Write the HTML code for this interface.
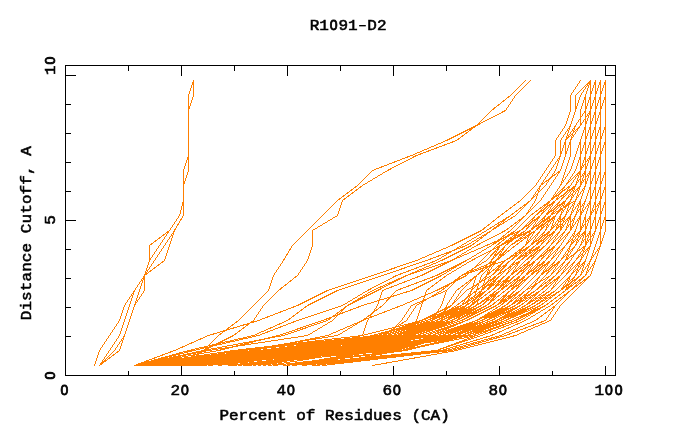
<!DOCTYPE html>
<html><head><meta charset="utf-8"><title>R1091-D2</title>
<style>html,body{margin:0;padding:0;background:#fff;width:680px;height:440px;overflow:hidden;font-family:"Liberation Mono",monospace}</style></head>
<body>
<svg width="680" height="440" viewBox="0 0 680 440" style="position:absolute;left:0;top:0">
<rect x="0" y="0" width="680" height="440" fill="#fff"/>
<g fill="none" stroke="#FF7F00" stroke-width="1" stroke-linecap="square" shape-rendering="crispEdges">
<path d="M94.5 365.5L99.5 350.5M99.5 350.5L109.5 335.5M109.5 335.5L119.5 320.5M119.5 320.5L124.5 305.5M124.5 305.5L134.5 290.5M134.5 290.5L144.5 275.5M144.5 275.5L149.5 260.5M149.5 260.5L149.5 245.5M149.5 245.5L169.5 230.5M169.5 230.5L179.5 215.5M179.5 215.5L183.5 200.5M183.5 200.5L183.5 185.5M183.5 185.5L183.5 170.5M183.5 170.5L188.5 155.5M188.5 155.5L188.5 140.5M188.5 140.5L188.5 125.5M188.5 125.5L188.5 110.5M188.5 110.5L188.5 95.5M188.5 95.5L193.5 80.5"/>
<path d="M99.5 365.5L109.5 350.5M109.5 350.5L119.5 335.5M119.5 335.5L124.5 320.5M124.5 320.5L129.5 305.5M129.5 305.5L134.5 290.5M134.5 290.5L144.5 275.5M144.5 275.5L149.5 260.5M149.5 260.5L159.5 245.5M159.5 245.5L169.5 230.5M169.5 230.5L179.5 215.5M179.5 215.5L183.5 200.5M183.5 200.5L183.5 185.5M183.5 185.5L188.5 170.5M188.5 170.5L188.5 155.5M188.5 155.5L188.5 140.5M188.5 140.5L188.5 125.5M188.5 125.5L188.5 110.5M188.5 110.5L193.5 95.5M193.5 95.5L193.5 80.5"/>
<path d="M99.5 365.5L114.5 350.5M114.5 350.5L124.5 335.5M124.5 335.5L129.5 320.5M129.5 320.5L134.5 305.5M134.5 305.5L139.5 290.5M139.5 290.5L144.5 275.5M144.5 275.5L154.5 260.5M154.5 260.5L164.5 245.5M164.5 245.5L174.5 230.5M174.5 230.5L183.5 215.5M183.5 215.5L183.5 200.5M183.5 200.5L183.5 185.5M183.5 185.5L188.5 170.5M188.5 170.5L188.5 155.5M188.5 155.5L188.5 140.5M188.5 140.5L188.5 125.5M188.5 125.5L188.5 110.5M188.5 110.5L193.5 95.5M193.5 95.5L193.5 80.5"/>
<path d="M99.5 365.5L119.5 350.5M119.5 350.5L124.5 335.5M124.5 335.5L129.5 320.5M129.5 320.5L134.5 305.5M134.5 305.5L144.5 290.5M144.5 290.5L144.5 275.5M144.5 275.5L164.5 260.5M164.5 260.5L169.5 245.5M169.5 245.5L174.5 230.5M174.5 230.5L183.5 215.5M183.5 215.5L183.5 200.5M183.5 200.5L183.5 185.5M183.5 185.5L188.5 170.5M188.5 170.5L188.5 155.5M188.5 155.5L188.5 140.5M188.5 140.5L188.5 125.5M188.5 125.5L188.5 110.5M188.5 110.5L193.5 95.5M193.5 95.5L193.5 80.5"/>
<path d="M183.5 365.5L203.5 350.5M203.5 350.5L218.5 335.5M218.5 335.5L238.5 320.5M238.5 320.5L253.5 305.5M253.5 305.5L268.5 290.5M268.5 290.5L273.5 275.5M273.5 275.5L283.5 260.5M283.5 260.5L292.5 245.5M292.5 245.5L307.5 230.5M307.5 230.5L322.5 215.5M322.5 215.5L337.5 200.5M337.5 200.5L357.5 185.5M357.5 185.5L372.5 170.5M372.5 170.5L411.5 155.5M411.5 155.5L446.5 140.5M446.5 140.5L476.5 125.5M476.5 125.5L491.5 110.5M491.5 110.5L510.5 95.5M510.5 95.5L525.5 80.5"/>
<path d="M174.5 365.5L203.5 350.5M203.5 350.5L233.5 335.5M233.5 335.5L253.5 320.5M253.5 320.5L263.5 305.5M263.5 305.5L278.5 290.5M278.5 290.5L297.5 275.5M297.5 275.5L307.5 260.5M307.5 260.5L312.5 245.5M312.5 245.5L312.5 230.5M312.5 230.5L337.5 215.5M337.5 215.5L342.5 200.5M342.5 200.5L362.5 185.5M362.5 185.5L387.5 170.5M387.5 170.5L416.5 155.5M416.5 155.5L456.5 140.5M456.5 140.5L476.5 125.5M476.5 125.5L505.5 110.5M505.5 110.5L515.5 95.5M515.5 95.5L530.5 80.5"/>
<path d="M134.5 365.5L174.5 350.5M174.5 350.5L208.5 335.5M208.5 335.5L258.5 320.5M258.5 320.5L297.5 305.5M297.5 305.5L327.5 290.5M327.5 290.5L372.5 275.5M372.5 275.5L416.5 260.5M416.5 260.5L451.5 245.5M451.5 245.5L481.5 230.5M481.5 230.5L500.5 215.5M500.5 215.5L520.5 200.5M520.5 200.5L535.5 185.5M535.5 185.5L545.5 170.5M545.5 170.5L555.5 155.5M555.5 155.5L555.5 140.5M555.5 140.5L565.5 125.5M565.5 125.5L570.5 110.5M570.5 110.5L570.5 95.5M570.5 95.5L580.5 80.5"/>
<path d="M372.5 365.5L456.5 350.5M456.5 350.5L515.5 335.5M515.5 335.5L550.5 320.5M550.5 320.5L560.5 305.5M560.5 305.5L575.5 290.5M575.5 290.5L590.5 275.5M590.5 275.5L595.5 260.5M595.5 260.5L600.5 245.5M600.5 245.5L600.5 230.5M600.5 230.5L605.5 215.5M605.5 215.5L605.5 200.5M605.5 200.5L605.5 185.5M605.5 185.5L605.5 170.5M605.5 170.5L605.5 155.5M605.5 155.5L605.5 140.5M605.5 140.5L605.5 125.5M605.5 125.5L605.5 110.5M605.5 110.5L605.5 95.5M605.5 95.5L605.5 80.5"/>
<path d="M134.5 365.5L188.5 350.5M188.5 350.5L253.5 335.5M253.5 335.5L287.5 320.5M287.5 320.5L307.5 305.5M307.5 305.5L337.5 290.5M337.5 290.5L382.5 275.5M382.5 275.5L426.5 260.5M426.5 260.5L466.5 245.5M466.5 245.5L491.5 230.5M491.5 230.5L515.5 215.5M515.5 215.5L530.5 200.5M530.5 200.5L540.5 185.5M540.5 185.5L550.5 170.5M550.5 170.5L560.5 155.5M560.5 155.5L560.5 140.5M560.5 140.5L570.5 125.5M570.5 125.5L575.5 110.5M575.5 110.5L580.5 95.5M580.5 95.5L590.5 80.5"/>
<path d="M134.5 365.5L193.5 350.5M193.5 350.5L258.5 335.5M258.5 335.5L297.5 320.5M297.5 320.5L342.5 305.5M342.5 305.5L367.5 290.5M367.5 290.5L396.5 275.5M396.5 275.5L436.5 260.5M436.5 260.5L461.5 245.5M461.5 245.5L486.5 230.5M486.5 230.5L510.5 215.5M510.5 215.5L530.5 200.5M530.5 200.5L545.5 185.5M545.5 185.5L555.5 170.5M555.5 170.5L560.5 155.5M560.5 155.5L565.5 140.5M565.5 140.5L570.5 125.5M570.5 125.5L575.5 110.5M575.5 110.5L575.5 95.5M575.5 95.5L590.5 80.5"/>
<path d="M134.5 365.5L203.5 350.5M203.5 350.5L283.5 335.5M283.5 335.5L327.5 320.5M327.5 320.5L347.5 305.5M347.5 305.5L377.5 290.5M377.5 290.5L406.5 275.5M406.5 275.5L441.5 260.5M441.5 260.5L471.5 245.5M471.5 245.5L491.5 230.5M491.5 230.5L510.5 215.5M510.5 215.5L530.5 200.5M530.5 200.5L545.5 185.5M545.5 185.5L555.5 170.5M555.5 170.5L560.5 155.5M560.5 155.5L565.5 140.5M565.5 140.5L575.5 125.5M575.5 125.5L585.5 110.5M585.5 110.5L585.5 95.5M585.5 95.5L590.5 80.5"/>
<path d="M134.5 365.5L208.5 350.5M208.5 350.5L307.5 335.5M307.5 335.5L332.5 320.5M332.5 320.5L347.5 305.5M347.5 305.5L372.5 290.5M372.5 290.5L406.5 275.5M406.5 275.5L451.5 260.5M451.5 260.5L476.5 245.5M476.5 245.5L505.5 230.5M505.5 230.5L525.5 215.5M525.5 215.5L540.5 200.5M540.5 200.5L550.5 185.5M550.5 185.5L560.5 170.5M560.5 170.5L565.5 155.5M565.5 155.5L565.5 140.5M565.5 140.5L580.5 125.5M580.5 125.5L580.5 110.5M580.5 110.5L585.5 95.5M585.5 95.5L590.5 80.5"/>
<path d="M134.5 365.5L218.5 350.5M218.5 350.5L278.5 335.5M278.5 335.5L322.5 320.5M322.5 320.5L362.5 305.5M362.5 305.5L411.5 290.5M411.5 290.5L441.5 275.5M441.5 275.5L466.5 260.5M466.5 260.5L491.5 245.5M491.5 245.5L510.5 230.5M510.5 230.5L525.5 215.5M525.5 215.5L535.5 200.5M535.5 200.5L540.5 185.5M540.5 185.5L560.5 170.5M560.5 170.5L565.5 155.5M565.5 155.5L570.5 140.5M570.5 140.5L580.5 125.5M580.5 125.5L590.5 110.5M590.5 110.5L590.5 95.5M590.5 95.5L590.5 80.5"/>
<path d="M134.5 365.5L233.5 350.5M233.5 350.5L362.5 335.5M362.5 335.5L367.5 320.5M367.5 320.5L377.5 305.5M377.5 305.5L382.5 290.5M382.5 290.5L421.5 275.5M421.5 275.5L451.5 260.5M451.5 260.5L486.5 245.5M486.5 245.5L520.5 230.5M520.5 230.5L535.5 215.5M535.5 215.5L550.5 200.5M550.5 200.5L560.5 185.5M560.5 185.5L565.5 170.5M565.5 170.5L570.5 155.5M570.5 155.5L570.5 140.5M570.5 140.5L575.5 125.5M575.5 125.5L585.5 110.5M585.5 110.5L590.5 95.5M590.5 95.5L595.5 80.5"/>
<path d="M134.5 365.5L243.5 350.5M243.5 350.5L337.5 335.5M337.5 335.5L362.5 320.5M362.5 320.5L382.5 305.5M382.5 305.5L396.5 290.5M396.5 290.5L436.5 275.5M436.5 275.5L466.5 260.5M466.5 260.5L491.5 245.5M491.5 245.5L515.5 230.5M515.5 230.5L530.5 215.5M530.5 215.5L550.5 200.5M550.5 200.5L560.5 185.5M560.5 185.5L570.5 170.5M570.5 170.5L575.5 155.5M575.5 155.5L580.5 140.5M580.5 140.5L585.5 125.5M585.5 125.5L590.5 110.5M590.5 110.5L590.5 95.5M590.5 95.5L595.5 80.5"/>
<path d="M134.5 365.5L253.5 350.5M253.5 350.5L327.5 335.5M327.5 335.5L362.5 320.5M362.5 320.5L401.5 305.5M401.5 305.5L436.5 290.5M436.5 290.5L466.5 275.5M466.5 275.5L481.5 260.5M481.5 260.5L496.5 245.5M496.5 245.5L515.5 230.5M515.5 230.5L530.5 215.5M530.5 215.5L550.5 200.5M550.5 200.5L565.5 185.5M565.5 185.5L575.5 170.5M575.5 170.5L580.5 155.5M580.5 155.5L585.5 140.5M585.5 140.5L585.5 125.5M585.5 125.5L590.5 110.5M590.5 110.5L595.5 95.5M595.5 95.5L595.5 80.5"/>
<path d="M134.5 365.5L258.5 350.5M258.5 350.5L382.5 335.5M382.5 335.5L406.5 320.5M406.5 320.5L416.5 305.5M416.5 305.5L441.5 290.5M441.5 290.5L461.5 275.5M461.5 275.5L486.5 260.5M486.5 260.5L500.5 245.5M500.5 245.5L520.5 230.5M520.5 230.5L535.5 215.5M535.5 215.5L555.5 200.5M555.5 200.5L565.5 185.5M565.5 185.5L580.5 170.5M580.5 170.5L585.5 155.5M585.5 155.5L585.5 140.5M585.5 140.5L590.5 125.5M590.5 125.5L595.5 110.5M595.5 110.5L595.5 95.5M595.5 95.5L595.5 80.5"/>
<path d="M134.5 365.5L268.5 350.5M268.5 350.5L387.5 335.5M387.5 335.5L401.5 320.5M401.5 320.5L411.5 305.5M411.5 305.5L446.5 290.5M446.5 290.5L461.5 275.5M461.5 275.5L505.5 260.5M505.5 260.5L525.5 245.5M525.5 245.5L530.5 230.5M530.5 230.5L540.5 215.5M540.5 215.5L555.5 200.5M555.5 200.5L565.5 185.5M565.5 185.5L580.5 170.5M580.5 170.5L585.5 155.5M585.5 155.5L585.5 140.5M585.5 140.5L590.5 125.5M590.5 125.5L595.5 110.5M595.5 110.5L595.5 95.5M595.5 95.5L600.5 80.5"/>
<path d="M134.5 365.5L278.5 350.5M278.5 350.5L396.5 335.5M396.5 335.5L431.5 320.5M431.5 320.5L441.5 305.5M441.5 305.5L446.5 290.5M446.5 290.5L461.5 275.5M461.5 275.5L496.5 260.5M496.5 260.5L510.5 245.5M510.5 245.5L530.5 230.5M530.5 230.5L545.5 215.5M545.5 215.5L565.5 200.5M565.5 200.5L575.5 185.5M575.5 185.5L585.5 170.5M585.5 170.5L585.5 155.5M585.5 155.5L585.5 140.5M585.5 140.5L590.5 125.5M590.5 125.5L595.5 110.5M595.5 110.5L595.5 95.5M595.5 95.5L600.5 80.5"/>
<path d="M134.5 365.5L287.5 350.5M287.5 350.5L411.5 335.5M411.5 335.5L441.5 320.5M441.5 320.5L446.5 305.5M446.5 305.5L456.5 290.5M456.5 290.5L476.5 275.5M476.5 275.5L496.5 260.5M496.5 260.5L515.5 245.5M515.5 245.5L535.5 230.5M535.5 230.5L555.5 215.5M555.5 215.5L570.5 200.5M570.5 200.5L575.5 185.5M575.5 185.5L585.5 170.5M585.5 170.5L590.5 155.5M590.5 155.5L590.5 140.5M590.5 140.5L590.5 125.5M590.5 125.5L595.5 110.5M595.5 110.5L600.5 95.5M600.5 95.5L600.5 80.5"/>
<path d="M243.5 365.5L382.5 350.5M382.5 350.5L456.5 335.5M456.5 335.5L496.5 320.5M496.5 320.5L530.5 305.5M530.5 305.5L550.5 290.5M550.5 290.5L565.5 275.5M565.5 275.5L580.5 260.5M580.5 260.5L590.5 245.5M590.5 245.5L595.5 230.5M595.5 230.5L595.5 215.5M595.5 215.5L600.5 200.5M600.5 200.5L600.5 185.5M600.5 185.5L600.5 170.5M600.5 170.5L600.5 155.5M600.5 155.5L600.5 140.5M600.5 140.5L600.5 125.5M600.5 125.5L600.5 110.5M600.5 110.5L600.5 95.5M600.5 95.5L605.5 80.5"/>
<path d="M273.5 365.5L401.5 350.5M401.5 350.5L446.5 335.5M446.5 335.5L486.5 320.5M486.5 320.5L515.5 305.5M515.5 305.5L530.5 290.5M530.5 290.5L545.5 275.5M545.5 275.5L555.5 260.5M555.5 260.5L565.5 245.5M565.5 245.5L580.5 230.5M580.5 230.5L590.5 215.5M590.5 215.5L595.5 200.5M595.5 200.5L600.5 185.5M600.5 185.5L600.5 170.5M600.5 170.5L600.5 155.5M600.5 155.5L600.5 140.5M600.5 140.5L600.5 125.5M600.5 125.5L600.5 110.5M600.5 110.5L600.5 95.5M600.5 95.5L600.5 80.5"/>
<path d="M134.5 365.5L347.5 350.5M347.5 350.5L406.5 335.5M406.5 335.5L451.5 320.5M451.5 320.5L481.5 305.5M481.5 305.5L496.5 290.5M496.5 290.5L510.5 275.5M510.5 275.5L530.5 260.5M530.5 260.5L540.5 245.5M540.5 245.5L555.5 230.5M555.5 230.5L565.5 215.5M565.5 215.5L570.5 200.5M570.5 200.5L580.5 185.5M580.5 185.5L585.5 170.5M585.5 170.5L585.5 155.5M585.5 155.5L590.5 140.5M590.5 140.5L590.5 125.5M590.5 125.5L595.5 110.5M595.5 110.5L595.5 95.5M595.5 95.5L595.5 80.5"/>
<path d="M134.5 365.5L392.5 350.5M392.5 350.5L451.5 335.5M451.5 335.5L491.5 320.5M491.5 320.5L520.5 305.5M520.5 305.5L540.5 290.5M540.5 290.5L555.5 275.5M555.5 275.5L570.5 260.5M570.5 260.5L580.5 245.5M580.5 245.5L590.5 230.5M590.5 230.5L590.5 215.5M590.5 215.5L595.5 200.5M595.5 200.5L600.5 185.5M600.5 185.5L600.5 170.5M600.5 170.5L600.5 155.5M600.5 155.5L600.5 140.5M600.5 140.5L600.5 125.5M600.5 125.5L600.5 110.5M600.5 110.5L600.5 95.5M600.5 95.5L600.5 80.5"/>
<path d="M154.5 365.5L357.5 350.5M357.5 350.5L406.5 335.5M406.5 335.5L451.5 320.5M451.5 320.5L476.5 305.5M476.5 305.5L496.5 290.5M496.5 290.5L515.5 275.5M515.5 275.5L535.5 260.5M535.5 260.5L555.5 245.5M555.5 245.5L570.5 230.5M570.5 230.5L575.5 215.5M575.5 215.5L580.5 200.5M580.5 200.5L585.5 185.5M585.5 185.5L590.5 170.5M590.5 170.5L590.5 155.5M590.5 155.5L590.5 140.5M590.5 140.5L590.5 125.5M590.5 125.5L590.5 110.5M590.5 110.5L590.5 95.5M590.5 95.5L595.5 80.5"/>
<path d="M179.5 365.5L302.5 350.5M302.5 350.5L387.5 335.5M387.5 335.5L431.5 320.5M431.5 320.5L461.5 305.5M461.5 305.5L481.5 290.5M481.5 290.5L496.5 275.5M496.5 275.5L520.5 260.5M520.5 260.5L535.5 245.5M535.5 245.5L555.5 230.5M555.5 230.5L560.5 215.5M560.5 215.5L565.5 200.5M565.5 200.5L575.5 185.5M575.5 185.5L580.5 170.5M580.5 170.5L580.5 155.5M580.5 155.5L580.5 140.5M580.5 140.5L585.5 125.5M585.5 125.5L590.5 110.5M590.5 110.5L590.5 95.5M590.5 95.5L595.5 80.5"/>
<path d="M134.5 365.5L332.5 350.5M332.5 350.5L421.5 335.5M421.5 335.5L466.5 320.5M466.5 320.5L496.5 305.5M496.5 305.5L520.5 290.5M520.5 290.5L535.5 275.5M535.5 275.5L550.5 260.5M550.5 260.5L565.5 245.5M565.5 245.5L575.5 230.5M575.5 230.5L580.5 215.5M580.5 215.5L585.5 200.5M585.5 200.5L590.5 185.5M590.5 185.5L590.5 170.5M590.5 170.5L595.5 155.5M595.5 155.5L595.5 140.5M595.5 140.5L595.5 125.5M595.5 125.5L595.5 110.5M595.5 110.5L595.5 95.5M595.5 95.5L600.5 80.5"/>
<path d="M134.5 365.5L367.5 350.5M367.5 350.5L441.5 335.5M441.5 335.5L476.5 320.5M476.5 320.5L510.5 305.5M510.5 305.5L525.5 290.5M525.5 290.5L540.5 275.5M540.5 275.5L555.5 260.5M555.5 260.5L565.5 245.5M565.5 245.5L575.5 230.5M575.5 230.5L580.5 215.5M580.5 215.5L585.5 200.5M585.5 200.5L590.5 185.5M590.5 185.5L590.5 170.5M590.5 170.5L595.5 155.5M595.5 155.5L595.5 140.5M595.5 140.5L595.5 125.5M595.5 125.5L600.5 110.5M600.5 110.5L600.5 95.5M600.5 95.5L600.5 80.5"/>
<path d="M228.5 365.5L287.5 350.5M287.5 350.5L401.5 335.5M401.5 335.5L451.5 320.5M451.5 320.5L476.5 305.5M476.5 305.5L496.5 290.5M496.5 290.5L510.5 275.5M510.5 275.5L520.5 260.5M520.5 260.5L535.5 245.5M535.5 245.5L550.5 230.5M550.5 230.5L555.5 215.5M555.5 215.5L565.5 200.5M565.5 200.5L580.5 185.5M580.5 185.5L585.5 170.5M585.5 170.5L590.5 155.5M590.5 155.5L590.5 140.5M590.5 140.5L590.5 125.5M590.5 125.5L595.5 110.5M595.5 110.5L595.5 95.5M595.5 95.5L595.5 80.5"/>
<path d="M134.5 365.5L406.5 350.5M406.5 350.5L461.5 335.5M461.5 335.5L496.5 320.5M496.5 320.5L525.5 305.5M525.5 305.5L545.5 290.5M545.5 290.5L560.5 275.5M560.5 275.5L570.5 260.5M570.5 260.5L580.5 245.5M580.5 245.5L590.5 230.5M590.5 230.5L590.5 215.5M590.5 215.5L595.5 200.5M595.5 200.5L595.5 185.5M595.5 185.5L600.5 170.5M600.5 170.5L600.5 155.5M600.5 155.5L600.5 140.5M600.5 140.5L605.5 125.5M605.5 125.5L605.5 110.5M605.5 110.5L605.5 95.5M605.5 95.5L605.5 80.5"/>
<path d="M154.5 365.5L307.5 350.5M307.5 350.5L396.5 335.5M396.5 335.5L436.5 320.5M436.5 320.5L471.5 305.5M471.5 305.5L491.5 290.5M491.5 290.5L510.5 275.5M510.5 275.5L530.5 260.5M530.5 260.5L545.5 245.5M545.5 245.5L560.5 230.5M560.5 230.5L565.5 215.5M565.5 215.5L575.5 200.5M575.5 200.5L580.5 185.5M580.5 185.5L580.5 170.5M580.5 170.5L585.5 155.5M585.5 155.5L585.5 140.5M585.5 140.5L590.5 125.5M590.5 125.5L590.5 110.5M590.5 110.5L595.5 95.5M595.5 95.5L595.5 80.5"/>
<path d="M134.5 365.5L357.5 350.5M357.5 350.5L446.5 335.5M446.5 335.5L486.5 320.5M486.5 320.5L520.5 305.5M520.5 305.5L540.5 290.5M540.5 290.5L555.5 275.5M555.5 275.5L570.5 260.5M570.5 260.5L580.5 245.5M580.5 245.5L590.5 230.5M590.5 230.5L590.5 215.5M590.5 215.5L595.5 200.5M595.5 200.5L595.5 185.5M595.5 185.5L600.5 170.5M600.5 170.5L600.5 155.5M600.5 155.5L600.5 140.5M600.5 140.5L600.5 125.5M600.5 125.5L600.5 110.5M600.5 110.5L600.5 95.5M600.5 95.5L600.5 80.5"/>
<path d="M218.5 365.5L283.5 350.5M283.5 350.5L411.5 335.5M411.5 335.5L446.5 320.5M446.5 320.5L481.5 305.5M481.5 305.5L496.5 290.5M496.5 290.5L510.5 275.5M510.5 275.5L525.5 260.5M525.5 260.5L545.5 245.5M545.5 245.5L555.5 230.5M555.5 230.5L570.5 215.5M570.5 215.5L575.5 200.5M575.5 200.5L585.5 185.5M585.5 185.5L590.5 170.5M590.5 170.5L590.5 155.5M590.5 155.5L590.5 140.5M590.5 140.5L595.5 125.5M595.5 125.5L595.5 110.5M595.5 110.5L595.5 95.5M595.5 95.5L595.5 80.5"/>
<path d="M203.5 365.5L297.5 350.5M297.5 350.5L416.5 335.5M416.5 335.5L461.5 320.5M461.5 320.5L486.5 305.5M486.5 305.5L505.5 290.5M505.5 290.5L520.5 275.5M520.5 275.5L535.5 260.5M535.5 260.5L550.5 245.5M550.5 245.5L565.5 230.5M565.5 230.5L570.5 215.5M570.5 215.5L575.5 200.5M575.5 200.5L580.5 185.5M580.5 185.5L585.5 170.5M585.5 170.5L590.5 155.5M590.5 155.5L590.5 140.5M590.5 140.5L590.5 125.5M590.5 125.5L595.5 110.5M595.5 110.5L595.5 95.5M595.5 95.5L595.5 80.5"/>
<path d="M134.5 365.5L362.5 350.5M362.5 350.5L446.5 335.5M446.5 335.5L486.5 320.5M486.5 320.5L515.5 305.5M515.5 305.5L535.5 290.5M535.5 290.5L555.5 275.5M555.5 275.5L565.5 260.5M565.5 260.5L575.5 245.5M575.5 245.5L585.5 230.5M585.5 230.5L585.5 215.5M585.5 215.5L590.5 200.5M590.5 200.5L590.5 185.5M590.5 185.5L595.5 170.5M595.5 170.5L595.5 155.5M595.5 155.5L595.5 140.5M595.5 140.5L595.5 125.5M595.5 125.5L600.5 110.5M600.5 110.5L600.5 95.5M600.5 95.5L600.5 80.5"/>
<path d="M134.5 365.5L317.5 350.5M317.5 350.5L406.5 335.5M406.5 335.5L446.5 320.5M446.5 320.5L481.5 305.5M481.5 305.5L496.5 290.5M496.5 290.5L515.5 275.5M515.5 275.5L535.5 260.5M535.5 260.5L550.5 245.5M550.5 245.5L560.5 230.5M560.5 230.5L570.5 215.5M570.5 215.5L575.5 200.5M575.5 200.5L580.5 185.5M580.5 185.5L585.5 170.5M585.5 170.5L590.5 155.5M590.5 155.5L590.5 140.5M590.5 140.5L590.5 125.5M590.5 125.5L595.5 110.5M595.5 110.5L595.5 95.5M595.5 95.5L595.5 80.5"/>
<path d="M139.5 365.5L372.5 350.5M372.5 350.5L456.5 335.5M456.5 335.5L496.5 320.5M496.5 320.5L525.5 305.5M525.5 305.5L550.5 290.5M550.5 290.5L565.5 275.5M565.5 275.5L575.5 260.5M575.5 260.5L590.5 245.5M590.5 245.5L595.5 230.5M595.5 230.5L595.5 215.5M595.5 215.5L600.5 200.5M600.5 200.5L600.5 185.5M600.5 185.5L600.5 170.5M600.5 170.5L600.5 155.5M600.5 155.5L600.5 140.5M600.5 140.5L600.5 125.5M600.5 125.5L600.5 110.5M600.5 110.5L600.5 95.5M600.5 95.5L600.5 80.5"/>
<path d="M253.5 365.5L327.5 350.5M327.5 350.5L401.5 335.5M401.5 335.5L441.5 320.5M441.5 320.5L471.5 305.5M471.5 305.5L486.5 290.5M486.5 290.5L505.5 275.5M505.5 275.5L520.5 260.5M520.5 260.5L535.5 245.5M535.5 245.5L550.5 230.5M550.5 230.5L560.5 215.5M560.5 215.5L570.5 200.5M570.5 200.5L580.5 185.5M580.5 185.5L590.5 170.5M590.5 170.5L590.5 155.5M590.5 155.5L590.5 140.5M590.5 140.5L590.5 125.5M590.5 125.5L595.5 110.5M595.5 110.5L595.5 95.5M595.5 95.5L595.5 80.5"/>
<path d="M208.5 365.5L287.5 350.5M287.5 350.5L387.5 335.5M387.5 335.5L431.5 320.5M431.5 320.5L466.5 305.5M466.5 305.5L486.5 290.5M486.5 290.5L505.5 275.5M505.5 275.5L520.5 260.5M520.5 260.5L535.5 245.5M535.5 245.5L550.5 230.5M550.5 230.5L555.5 215.5M555.5 215.5L565.5 200.5M565.5 200.5L575.5 185.5M575.5 185.5L580.5 170.5M580.5 170.5L580.5 155.5M580.5 155.5L585.5 140.5M585.5 140.5L590.5 125.5M590.5 125.5L590.5 110.5M590.5 110.5L590.5 95.5M590.5 95.5L595.5 80.5"/>
<path d="M253.5 365.5L337.5 350.5M337.5 350.5L411.5 335.5M411.5 335.5L451.5 320.5M451.5 320.5L481.5 305.5M481.5 305.5L500.5 290.5M500.5 290.5L515.5 275.5M515.5 275.5L535.5 260.5M535.5 260.5L550.5 245.5M550.5 245.5L560.5 230.5M560.5 230.5L565.5 215.5M565.5 215.5L575.5 200.5M575.5 200.5L585.5 185.5M585.5 185.5L590.5 170.5M590.5 170.5L590.5 155.5M590.5 155.5L590.5 140.5M590.5 140.5L595.5 125.5M595.5 125.5L595.5 110.5M595.5 110.5L595.5 95.5M595.5 95.5L595.5 80.5"/>
<path d="M283.5 365.5L406.5 350.5M406.5 350.5L466.5 335.5M466.5 335.5L505.5 320.5M505.5 320.5L535.5 305.5M535.5 305.5L560.5 290.5M560.5 290.5L580.5 275.5M580.5 275.5L590.5 260.5M590.5 260.5L600.5 245.5M600.5 245.5L600.5 230.5M600.5 230.5L600.5 215.5M600.5 215.5L605.5 200.5M605.5 200.5L605.5 185.5M605.5 185.5L605.5 170.5M605.5 170.5L605.5 155.5M605.5 155.5L605.5 140.5M605.5 140.5L605.5 125.5M605.5 125.5L605.5 110.5M605.5 110.5L605.5 95.5M605.5 95.5L605.5 80.5"/>
<path d="M154.5 365.5L362.5 350.5M362.5 350.5L411.5 335.5M411.5 335.5L456.5 320.5M456.5 320.5L486.5 305.5M486.5 305.5L505.5 290.5M505.5 290.5L520.5 275.5M520.5 275.5L535.5 260.5M535.5 260.5L550.5 245.5M550.5 245.5L565.5 230.5M565.5 230.5L575.5 215.5M575.5 215.5L580.5 200.5M580.5 200.5L585.5 185.5M585.5 185.5L590.5 170.5M590.5 170.5L595.5 155.5M595.5 155.5L595.5 140.5M595.5 140.5L595.5 125.5M595.5 125.5L595.5 110.5M595.5 110.5L595.5 95.5M595.5 95.5L595.5 80.5"/>
<path d="M164.5 365.5L322.5 350.5M322.5 350.5L416.5 335.5M416.5 335.5L461.5 320.5M461.5 320.5L491.5 305.5M491.5 305.5L510.5 290.5M510.5 290.5L530.5 275.5M530.5 275.5L540.5 260.5M540.5 260.5L550.5 245.5M550.5 245.5L565.5 230.5M565.5 230.5L570.5 215.5M570.5 215.5L580.5 200.5M580.5 200.5L585.5 185.5M585.5 185.5L590.5 170.5M590.5 170.5L590.5 155.5M590.5 155.5L590.5 140.5M590.5 140.5L595.5 125.5M595.5 125.5L595.5 110.5M595.5 110.5L595.5 95.5M595.5 95.5L595.5 80.5"/>
<path d="M188.5 365.5L317.5 350.5M317.5 350.5L401.5 335.5M401.5 335.5L446.5 320.5M446.5 320.5L476.5 305.5M476.5 305.5L500.5 290.5M500.5 290.5L510.5 275.5M510.5 275.5L525.5 260.5M525.5 260.5L540.5 245.5M540.5 245.5L555.5 230.5M555.5 230.5L565.5 215.5M565.5 215.5L570.5 200.5M570.5 200.5L580.5 185.5M580.5 185.5L585.5 170.5M585.5 170.5L590.5 155.5M590.5 155.5L590.5 140.5M590.5 140.5L590.5 125.5M590.5 125.5L590.5 110.5M590.5 110.5L590.5 95.5M590.5 95.5L595.5 80.5"/>
<path d="M248.5 365.5L362.5 350.5M362.5 350.5L431.5 335.5M431.5 335.5L476.5 320.5M476.5 320.5L500.5 305.5M500.5 305.5L515.5 290.5M515.5 290.5L530.5 275.5M530.5 275.5L540.5 260.5M540.5 260.5L550.5 245.5M550.5 245.5L565.5 230.5M565.5 230.5L575.5 215.5M575.5 215.5L585.5 200.5M585.5 200.5L590.5 185.5M590.5 185.5L595.5 170.5M595.5 170.5L595.5 155.5M595.5 155.5L595.5 140.5M595.5 140.5L595.5 125.5M595.5 125.5L595.5 110.5M595.5 110.5L595.5 95.5M595.5 95.5L600.5 80.5"/>
<path d="M134.5 365.5L302.5 350.5M302.5 350.5L401.5 335.5M401.5 335.5L441.5 320.5M441.5 320.5L471.5 305.5M471.5 305.5L491.5 290.5M491.5 290.5L505.5 275.5M505.5 275.5L515.5 260.5M515.5 260.5L540.5 245.5M540.5 245.5L550.5 230.5M550.5 230.5L560.5 215.5M560.5 215.5L570.5 200.5M570.5 200.5L575.5 185.5M575.5 185.5L585.5 170.5M585.5 170.5L585.5 155.5M585.5 155.5L585.5 140.5M585.5 140.5L590.5 125.5M590.5 125.5L590.5 110.5M590.5 110.5L590.5 95.5M590.5 95.5L595.5 80.5"/>
<path d="M198.5 365.5L307.5 350.5M307.5 350.5L382.5 335.5M382.5 335.5L431.5 320.5M431.5 320.5L461.5 305.5M461.5 305.5L486.5 290.5M486.5 290.5L500.5 275.5M500.5 275.5L515.5 260.5M515.5 260.5L535.5 245.5M535.5 245.5L550.5 230.5M550.5 230.5L555.5 215.5M555.5 215.5L565.5 200.5M565.5 200.5L575.5 185.5M575.5 185.5L580.5 170.5M580.5 170.5L580.5 155.5M580.5 155.5L580.5 140.5M580.5 140.5L585.5 125.5M585.5 125.5L590.5 110.5M590.5 110.5L590.5 95.5M590.5 95.5L595.5 80.5"/>
<path d="M134.5 365.5L367.5 350.5M367.5 350.5L471.5 335.5M471.5 335.5L505.5 320.5M505.5 320.5L540.5 305.5M540.5 305.5L560.5 290.5M560.5 290.5L575.5 275.5M575.5 275.5L585.5 260.5M585.5 260.5L590.5 245.5M590.5 245.5L595.5 230.5M595.5 230.5L600.5 215.5M600.5 215.5L600.5 200.5M600.5 200.5L600.5 185.5M600.5 185.5L605.5 170.5M605.5 170.5L605.5 155.5M605.5 155.5L605.5 140.5M605.5 140.5L605.5 125.5M605.5 125.5L605.5 110.5M605.5 110.5L605.5 95.5M605.5 95.5L605.5 80.5"/>
<path d="M134.5 365.5L382.5 350.5M382.5 350.5L451.5 335.5M451.5 335.5L496.5 320.5M496.5 320.5L525.5 305.5M525.5 305.5L540.5 290.5M540.5 290.5L560.5 275.5M560.5 275.5L570.5 260.5M570.5 260.5L580.5 245.5M580.5 245.5L590.5 230.5M590.5 230.5L595.5 215.5M595.5 215.5L595.5 200.5M595.5 200.5L600.5 185.5M600.5 185.5L600.5 170.5M600.5 170.5L600.5 155.5M600.5 155.5L600.5 140.5M600.5 140.5L600.5 125.5M600.5 125.5L600.5 110.5M600.5 110.5L600.5 95.5M600.5 95.5L600.5 80.5"/>
<path d="M134.5 365.5L312.5 350.5M312.5 350.5L382.5 335.5M382.5 335.5L426.5 320.5M426.5 320.5L461.5 305.5M461.5 305.5L481.5 290.5M481.5 290.5L500.5 275.5M500.5 275.5L515.5 260.5M515.5 260.5L535.5 245.5M535.5 245.5L545.5 230.5M545.5 230.5L555.5 215.5M555.5 215.5L565.5 200.5M565.5 200.5L575.5 185.5M575.5 185.5L580.5 170.5M580.5 170.5L585.5 155.5M585.5 155.5L585.5 140.5M585.5 140.5L585.5 125.5M585.5 125.5L590.5 110.5M590.5 110.5L590.5 95.5M590.5 95.5L595.5 80.5"/>
<path d="M154.5 365.5L406.5 350.5M406.5 350.5L466.5 335.5M466.5 335.5L510.5 320.5M510.5 320.5L545.5 305.5M545.5 305.5L565.5 290.5M565.5 290.5L570.5 275.5M570.5 275.5L580.5 260.5M580.5 260.5L585.5 245.5M585.5 245.5L590.5 230.5M590.5 230.5L590.5 215.5M590.5 215.5L600.5 200.5M600.5 200.5L605.5 185.5M605.5 185.5L605.5 170.5M605.5 170.5L605.5 155.5M605.5 155.5L605.5 140.5M605.5 140.5L605.5 125.5M605.5 125.5L605.5 110.5M605.5 110.5L605.5 95.5M605.5 95.5L605.5 80.5"/>
<path d="M183.5 365.5L307.5 350.5M307.5 350.5L421.5 335.5M421.5 335.5L466.5 320.5M466.5 320.5L496.5 305.5M496.5 305.5L510.5 290.5M510.5 290.5L525.5 275.5M525.5 275.5L545.5 260.5M545.5 260.5L555.5 245.5M555.5 245.5L570.5 230.5M570.5 230.5L575.5 215.5M575.5 215.5L580.5 200.5M580.5 200.5L585.5 185.5M585.5 185.5L590.5 170.5M590.5 170.5L590.5 155.5M590.5 155.5L590.5 140.5M590.5 140.5L595.5 125.5M595.5 125.5L595.5 110.5M595.5 110.5L595.5 95.5M595.5 95.5L600.5 80.5"/>
<path d="M169.5 365.5L367.5 350.5M367.5 350.5L466.5 335.5M466.5 335.5L505.5 320.5M505.5 320.5L530.5 305.5M530.5 305.5L555.5 290.5M555.5 290.5L570.5 275.5M570.5 275.5L580.5 260.5M580.5 260.5L585.5 245.5M585.5 245.5L595.5 230.5M595.5 230.5L600.5 215.5M600.5 215.5L600.5 200.5M600.5 200.5L605.5 185.5M605.5 185.5L605.5 170.5M605.5 170.5L605.5 155.5M605.5 155.5L605.5 140.5M605.5 140.5L605.5 125.5M605.5 125.5L605.5 110.5M605.5 110.5L605.5 95.5M605.5 95.5L605.5 80.5"/>
<path d="M208.5 365.5L327.5 350.5M327.5 350.5L401.5 335.5M401.5 335.5L446.5 320.5M446.5 320.5L476.5 305.5M476.5 305.5L496.5 290.5M496.5 290.5L515.5 275.5M515.5 275.5L530.5 260.5M530.5 260.5L545.5 245.5M545.5 245.5L560.5 230.5M560.5 230.5L560.5 215.5M560.5 215.5L570.5 200.5M570.5 200.5L580.5 185.5M580.5 185.5L585.5 170.5M585.5 170.5L585.5 155.5M585.5 155.5L585.5 140.5M585.5 140.5L585.5 125.5M585.5 125.5L590.5 110.5M590.5 110.5L590.5 95.5M590.5 95.5L595.5 80.5"/>
<path d="M208.5 365.5L297.5 350.5M297.5 350.5L372.5 335.5M372.5 335.5L426.5 320.5M426.5 320.5L466.5 305.5M466.5 305.5L486.5 290.5M486.5 290.5L505.5 275.5M505.5 275.5L515.5 260.5M515.5 260.5L530.5 245.5M530.5 245.5L540.5 230.5M540.5 230.5L550.5 215.5M550.5 215.5L560.5 200.5M560.5 200.5L575.5 185.5M575.5 185.5L580.5 170.5M580.5 170.5L585.5 155.5M585.5 155.5L585.5 140.5M585.5 140.5L590.5 125.5M590.5 125.5L590.5 110.5M590.5 110.5L590.5 95.5M590.5 95.5L595.5 80.5"/>
<path d="M134.5 365.5L401.5 350.5M401.5 350.5L446.5 335.5M446.5 335.5L486.5 320.5M486.5 320.5L515.5 305.5M515.5 305.5L540.5 290.5M540.5 290.5L555.5 275.5M555.5 275.5L565.5 260.5M565.5 260.5L575.5 245.5M575.5 245.5L580.5 230.5M580.5 230.5L585.5 215.5M585.5 215.5L590.5 200.5M590.5 200.5L595.5 185.5M595.5 185.5L595.5 170.5M595.5 170.5L595.5 155.5M595.5 155.5L595.5 140.5M595.5 140.5L600.5 125.5M600.5 125.5L600.5 110.5M600.5 110.5L600.5 95.5M600.5 95.5L600.5 80.5"/>
<path d="M268.5 365.5L362.5 350.5M362.5 350.5L456.5 335.5M456.5 335.5L496.5 320.5M496.5 320.5L520.5 305.5M520.5 305.5L540.5 290.5M540.5 290.5L555.5 275.5M555.5 275.5L570.5 260.5M570.5 260.5L580.5 245.5M580.5 245.5L590.5 230.5M590.5 230.5L595.5 215.5M595.5 215.5L595.5 200.5M595.5 200.5L600.5 185.5M600.5 185.5L600.5 170.5M600.5 170.5L600.5 155.5M600.5 155.5L600.5 140.5M600.5 140.5L600.5 125.5M600.5 125.5L600.5 110.5M600.5 110.5L600.5 95.5M600.5 95.5L605.5 80.5"/>
<path d="M134.5 365.5L297.5 350.5M297.5 350.5L396.5 335.5M396.5 335.5L441.5 320.5M441.5 320.5L471.5 305.5M471.5 305.5L486.5 290.5M486.5 290.5L500.5 275.5M500.5 275.5L515.5 260.5M515.5 260.5L530.5 245.5M530.5 245.5L540.5 230.5M540.5 230.5L555.5 215.5M555.5 215.5L565.5 200.5M565.5 200.5L575.5 185.5M575.5 185.5L580.5 170.5M580.5 170.5L585.5 155.5M585.5 155.5L585.5 140.5M585.5 140.5L590.5 125.5M590.5 125.5L590.5 110.5M590.5 110.5L590.5 95.5M590.5 95.5L595.5 80.5"/>
<path d="M208.5 365.5L327.5 350.5M327.5 350.5L431.5 335.5M431.5 335.5L476.5 320.5M476.5 320.5L510.5 305.5M510.5 305.5L525.5 290.5M525.5 290.5L550.5 275.5M550.5 275.5L560.5 260.5M560.5 260.5L570.5 245.5M570.5 245.5L580.5 230.5M580.5 230.5L580.5 215.5M580.5 215.5L585.5 200.5M585.5 200.5L590.5 185.5M590.5 185.5L590.5 170.5M590.5 170.5L590.5 155.5M590.5 155.5L595.5 140.5M595.5 140.5L600.5 125.5M600.5 125.5L600.5 110.5M600.5 110.5L600.5 95.5M600.5 95.5L600.5 80.5"/>
<path d="M228.5 365.5L352.5 350.5M352.5 350.5L416.5 335.5M416.5 335.5L461.5 320.5M461.5 320.5L491.5 305.5M491.5 305.5L510.5 290.5M510.5 290.5L520.5 275.5M520.5 275.5L530.5 260.5M530.5 260.5L545.5 245.5M545.5 245.5L560.5 230.5M560.5 230.5L570.5 215.5M570.5 215.5L575.5 200.5M575.5 200.5L585.5 185.5M585.5 185.5L590.5 170.5M590.5 170.5L590.5 155.5M590.5 155.5L590.5 140.5M590.5 140.5L590.5 125.5M590.5 125.5L595.5 110.5M595.5 110.5L595.5 95.5M595.5 95.5L595.5 80.5"/>
<path d="M188.5 365.5L382.5 350.5M382.5 350.5L436.5 335.5M436.5 335.5L476.5 320.5M476.5 320.5L500.5 305.5M500.5 305.5L520.5 290.5M520.5 290.5L535.5 275.5M535.5 275.5L545.5 260.5M545.5 260.5L560.5 245.5M560.5 245.5L570.5 230.5M570.5 230.5L575.5 215.5M575.5 215.5L585.5 200.5M585.5 200.5L590.5 185.5M590.5 185.5L595.5 170.5M595.5 170.5L595.5 155.5M595.5 155.5L595.5 140.5M595.5 140.5L595.5 125.5M595.5 125.5L600.5 110.5M600.5 110.5L600.5 95.5M600.5 95.5L600.5 80.5"/>
<path d="M134.5 365.5L322.5 350.5M322.5 350.5L421.5 335.5M421.5 335.5L466.5 320.5M466.5 320.5L496.5 305.5M496.5 305.5L515.5 290.5M515.5 290.5L525.5 275.5M525.5 275.5L540.5 260.5M540.5 260.5L555.5 245.5M555.5 245.5L565.5 230.5M565.5 230.5L575.5 215.5M575.5 215.5L580.5 200.5M580.5 200.5L585.5 185.5M585.5 185.5L590.5 170.5M590.5 170.5L595.5 155.5M595.5 155.5L595.5 140.5M595.5 140.5L595.5 125.5M595.5 125.5L595.5 110.5M595.5 110.5L595.5 95.5M595.5 95.5L595.5 80.5"/>
<path d="M134.5 365.5L387.5 350.5M387.5 350.5L451.5 335.5M451.5 335.5L500.5 320.5M500.5 320.5L530.5 305.5M530.5 305.5L555.5 290.5M555.5 290.5L570.5 275.5M570.5 275.5L585.5 260.5M585.5 260.5L590.5 245.5M590.5 245.5L595.5 230.5M595.5 230.5L600.5 215.5M600.5 215.5L600.5 200.5M600.5 200.5L600.5 185.5M600.5 185.5L600.5 170.5M600.5 170.5L600.5 155.5M600.5 155.5L600.5 140.5M600.5 140.5L605.5 125.5M605.5 125.5L605.5 110.5M605.5 110.5L605.5 95.5M605.5 95.5L605.5 80.5"/>
<path d="M134.5 365.5L387.5 350.5M387.5 350.5L441.5 335.5M441.5 335.5L476.5 320.5M476.5 320.5L505.5 305.5M505.5 305.5L525.5 290.5M525.5 290.5L540.5 275.5M540.5 275.5L560.5 260.5M560.5 260.5L570.5 245.5M570.5 245.5L585.5 230.5M585.5 230.5L590.5 215.5M590.5 215.5L590.5 200.5M590.5 200.5L595.5 185.5M595.5 185.5L595.5 170.5M595.5 170.5L595.5 155.5M595.5 155.5L595.5 140.5M595.5 140.5L595.5 125.5M595.5 125.5L600.5 110.5M600.5 110.5L600.5 95.5M600.5 95.5L605.5 80.5"/>
<path d="M134.5 365.5L357.5 350.5M357.5 350.5L431.5 335.5M431.5 335.5L466.5 320.5M466.5 320.5L496.5 305.5M496.5 305.5L515.5 290.5M515.5 290.5L530.5 275.5M530.5 275.5L550.5 260.5M550.5 260.5L565.5 245.5M565.5 245.5L580.5 230.5M580.5 230.5L585.5 215.5M585.5 215.5L590.5 200.5M590.5 200.5L595.5 185.5M595.5 185.5L595.5 170.5M595.5 170.5L595.5 155.5M595.5 155.5L595.5 140.5M595.5 140.5L595.5 125.5M595.5 125.5L595.5 110.5M595.5 110.5L595.5 95.5M595.5 95.5L600.5 80.5"/>
<path d="M154.5 365.5L377.5 350.5M377.5 350.5L436.5 335.5M436.5 335.5L476.5 320.5M476.5 320.5L505.5 305.5M505.5 305.5L525.5 290.5M525.5 290.5L540.5 275.5M540.5 275.5L550.5 260.5M550.5 260.5L565.5 245.5M565.5 245.5L575.5 230.5M575.5 230.5L580.5 215.5M580.5 215.5L580.5 200.5M580.5 200.5L585.5 185.5M585.5 185.5L590.5 170.5M590.5 170.5L590.5 155.5M590.5 155.5L590.5 140.5M590.5 140.5L595.5 125.5M595.5 125.5L595.5 110.5M595.5 110.5L595.5 95.5M595.5 95.5L600.5 80.5"/>
<path d="M317.5 365.5L401.5 350.5M401.5 350.5L466.5 335.5M466.5 335.5L505.5 320.5M505.5 320.5L535.5 305.5M535.5 305.5L560.5 290.5M560.5 290.5L570.5 275.5M570.5 275.5L585.5 260.5M585.5 260.5L590.5 245.5M590.5 245.5L595.5 230.5M595.5 230.5L600.5 215.5M600.5 215.5L600.5 200.5M600.5 200.5L605.5 185.5M605.5 185.5L605.5 170.5M605.5 170.5L605.5 155.5M605.5 155.5L605.5 140.5M605.5 140.5L605.5 125.5M605.5 125.5L605.5 110.5M605.5 110.5L605.5 95.5M605.5 95.5L605.5 80.5"/>
<path d="M233.5 365.5L347.5 350.5M347.5 350.5L451.5 335.5M451.5 335.5L486.5 320.5M486.5 320.5L510.5 305.5M510.5 305.5L535.5 290.5M535.5 290.5L550.5 275.5M550.5 275.5L565.5 260.5M565.5 260.5L585.5 245.5M585.5 245.5L595.5 230.5M595.5 230.5L595.5 215.5M595.5 215.5L595.5 200.5M595.5 200.5L600.5 185.5M600.5 185.5L600.5 170.5M600.5 170.5L600.5 155.5M600.5 155.5L600.5 140.5M600.5 140.5L600.5 125.5M600.5 125.5L600.5 110.5M600.5 110.5L605.5 95.5M605.5 95.5L605.5 80.5"/>
<path d="M134.5 365.5L312.5 350.5M312.5 350.5L426.5 335.5M426.5 335.5L466.5 320.5M466.5 320.5L496.5 305.5M496.5 305.5L510.5 290.5M510.5 290.5L525.5 275.5M525.5 275.5L535.5 260.5M535.5 260.5L550.5 245.5M550.5 245.5L565.5 230.5M565.5 230.5L570.5 215.5M570.5 215.5L580.5 200.5M580.5 200.5L585.5 185.5M585.5 185.5L590.5 170.5M590.5 170.5L590.5 155.5M590.5 155.5L590.5 140.5M590.5 140.5L595.5 125.5M595.5 125.5L595.5 110.5M595.5 110.5L595.5 95.5M595.5 95.5L595.5 80.5"/>
<path d="M263.5 365.5L342.5 350.5M342.5 350.5L436.5 335.5M436.5 335.5L481.5 320.5M481.5 320.5L510.5 305.5M510.5 305.5L530.5 290.5M530.5 290.5L540.5 275.5M540.5 275.5L560.5 260.5M560.5 260.5L570.5 245.5M570.5 245.5L580.5 230.5M580.5 230.5L585.5 215.5M585.5 215.5L590.5 200.5M590.5 200.5L590.5 185.5M590.5 185.5L590.5 170.5M590.5 170.5L595.5 155.5M595.5 155.5L595.5 140.5M595.5 140.5L600.5 125.5M600.5 125.5L600.5 110.5M600.5 110.5L600.5 95.5M600.5 95.5L605.5 80.5"/>
<path d="M198.5 365.5L322.5 350.5M322.5 350.5L406.5 335.5M406.5 335.5L451.5 320.5M451.5 320.5L481.5 305.5M481.5 305.5L500.5 290.5M500.5 290.5L520.5 275.5M520.5 275.5L535.5 260.5M535.5 260.5L550.5 245.5M550.5 245.5L560.5 230.5M560.5 230.5L565.5 215.5M565.5 215.5L570.5 200.5M570.5 200.5L580.5 185.5M580.5 185.5L585.5 170.5M585.5 170.5L585.5 155.5M585.5 155.5L585.5 140.5M585.5 140.5L590.5 125.5M590.5 125.5L595.5 110.5M595.5 110.5L595.5 95.5M595.5 95.5L600.5 80.5"/>
<path d="M208.5 365.5L352.5 350.5M352.5 350.5L451.5 335.5M451.5 335.5L496.5 320.5M496.5 320.5L525.5 305.5M525.5 305.5L540.5 290.5M540.5 290.5L560.5 275.5M560.5 275.5L570.5 260.5M570.5 260.5L580.5 245.5M580.5 245.5L585.5 230.5M585.5 230.5L590.5 215.5M590.5 215.5L595.5 200.5M595.5 200.5L595.5 185.5M595.5 185.5L600.5 170.5M600.5 170.5L600.5 155.5M600.5 155.5L600.5 140.5M600.5 140.5L600.5 125.5M600.5 125.5L600.5 110.5M600.5 110.5L600.5 95.5M600.5 95.5L605.5 80.5"/>
<path d="M208.5 365.5L332.5 350.5M332.5 350.5L416.5 335.5M416.5 335.5L456.5 320.5M456.5 320.5L481.5 305.5M481.5 305.5L500.5 290.5M500.5 290.5L515.5 275.5M515.5 275.5L535.5 260.5M535.5 260.5L550.5 245.5M550.5 245.5L565.5 230.5M565.5 230.5L570.5 215.5M570.5 215.5L575.5 200.5M575.5 200.5L585.5 185.5M585.5 185.5L585.5 170.5M585.5 170.5L590.5 155.5M590.5 155.5L590.5 140.5M590.5 140.5L590.5 125.5M590.5 125.5L595.5 110.5M595.5 110.5L595.5 95.5M595.5 95.5L595.5 80.5"/>
<path d="M238.5 365.5L357.5 350.5M357.5 350.5L451.5 335.5M451.5 335.5L500.5 320.5M500.5 320.5L535.5 305.5M535.5 305.5L560.5 290.5M560.5 290.5L570.5 275.5M570.5 275.5L580.5 260.5M580.5 260.5L585.5 245.5M585.5 245.5L585.5 230.5M585.5 230.5L590.5 215.5M590.5 215.5L595.5 200.5M595.5 200.5L600.5 185.5M600.5 185.5L605.5 170.5M605.5 170.5L605.5 155.5M605.5 155.5L605.5 140.5M605.5 140.5L605.5 125.5M605.5 125.5L605.5 110.5M605.5 110.5L605.5 95.5M605.5 95.5L605.5 80.5"/>
<path d="M134.5 365.5L377.5 350.5M377.5 350.5L461.5 335.5M461.5 335.5L500.5 320.5M500.5 320.5L535.5 305.5M535.5 305.5L555.5 290.5M555.5 290.5L570.5 275.5M570.5 275.5L585.5 260.5M585.5 260.5L590.5 245.5M590.5 245.5L595.5 230.5M595.5 230.5L595.5 215.5M595.5 215.5L600.5 200.5M600.5 200.5L600.5 185.5M600.5 185.5L600.5 170.5M600.5 170.5L600.5 155.5M600.5 155.5L600.5 140.5M600.5 140.5L605.5 125.5M605.5 125.5L605.5 110.5M605.5 110.5L605.5 95.5M605.5 95.5L605.5 80.5"/>
<path d="M193.5 365.5L377.5 350.5M377.5 350.5L446.5 335.5M446.5 335.5L481.5 320.5M481.5 320.5L510.5 305.5M510.5 305.5L525.5 290.5M525.5 290.5L540.5 275.5M540.5 275.5L550.5 260.5M550.5 260.5L560.5 245.5M560.5 245.5L570.5 230.5M570.5 230.5L580.5 215.5M580.5 215.5L590.5 200.5M590.5 200.5L595.5 185.5M595.5 185.5L600.5 170.5M600.5 170.5L600.5 155.5M600.5 155.5L600.5 140.5M600.5 140.5L600.5 125.5M600.5 125.5L600.5 110.5M600.5 110.5L600.5 95.5M600.5 95.5L600.5 80.5"/>
<path d="M183.5 365.5L377.5 350.5M377.5 350.5L436.5 335.5M436.5 335.5L481.5 320.5M481.5 320.5L505.5 305.5M505.5 305.5L525.5 290.5M525.5 290.5L540.5 275.5M540.5 275.5L550.5 260.5M550.5 260.5L560.5 245.5M560.5 245.5L570.5 230.5M570.5 230.5L580.5 215.5M580.5 215.5L585.5 200.5M585.5 200.5L590.5 185.5M590.5 185.5L595.5 170.5M595.5 170.5L595.5 155.5M595.5 155.5L595.5 140.5M595.5 140.5L595.5 125.5M595.5 125.5L600.5 110.5M600.5 110.5L600.5 95.5M600.5 95.5L600.5 80.5"/>
<path d="M208.5 365.5L268.5 350.5M268.5 350.5L392.5 335.5M392.5 335.5L436.5 320.5M436.5 320.5L466.5 305.5M466.5 305.5L486.5 290.5M486.5 290.5L496.5 275.5M496.5 275.5L520.5 260.5M520.5 260.5L535.5 245.5M535.5 245.5L550.5 230.5M550.5 230.5L560.5 215.5M560.5 215.5L570.5 200.5M570.5 200.5L575.5 185.5M575.5 185.5L585.5 170.5M585.5 170.5L585.5 155.5M585.5 155.5L585.5 140.5M585.5 140.5L585.5 125.5M585.5 125.5L590.5 110.5M590.5 110.5L590.5 95.5M590.5 95.5L595.5 80.5"/>
<path d="M159.5 365.5L337.5 350.5M337.5 350.5L436.5 335.5M436.5 335.5L481.5 320.5M481.5 320.5L515.5 305.5M515.5 305.5L535.5 290.5M535.5 290.5L555.5 275.5M555.5 275.5L565.5 260.5M565.5 260.5L570.5 245.5M570.5 245.5L575.5 230.5M575.5 230.5L580.5 215.5M580.5 215.5L585.5 200.5M585.5 200.5L590.5 185.5M590.5 185.5L595.5 170.5M595.5 170.5L595.5 155.5M595.5 155.5L595.5 140.5M595.5 140.5L600.5 125.5M600.5 125.5L600.5 110.5M600.5 110.5L600.5 95.5M600.5 95.5L600.5 80.5"/>
<path d="M134.5 365.5L382.5 350.5M382.5 350.5L441.5 335.5M441.5 335.5L486.5 320.5M486.5 320.5L515.5 305.5M515.5 305.5L540.5 290.5M540.5 290.5L555.5 275.5M555.5 275.5L565.5 260.5M565.5 260.5L575.5 245.5M575.5 245.5L585.5 230.5M585.5 230.5L585.5 215.5M585.5 215.5L590.5 200.5M590.5 200.5L595.5 185.5M595.5 185.5L595.5 170.5M595.5 170.5L595.5 155.5M595.5 155.5L600.5 140.5M600.5 140.5L600.5 125.5M600.5 125.5L600.5 110.5M600.5 110.5L600.5 95.5M600.5 95.5L600.5 80.5"/>
<path d="M149.5 365.5L401.5 350.5M401.5 350.5L476.5 335.5M476.5 335.5L515.5 320.5M515.5 320.5L540.5 305.5M540.5 305.5L560.5 290.5M560.5 290.5L580.5 275.5M580.5 275.5L585.5 260.5M585.5 260.5L590.5 245.5M590.5 245.5L590.5 230.5M590.5 230.5L595.5 215.5M595.5 215.5L595.5 200.5M595.5 200.5L600.5 185.5M600.5 185.5L600.5 170.5M600.5 170.5L600.5 155.5M600.5 155.5L605.5 140.5M605.5 140.5L605.5 125.5M605.5 125.5L605.5 110.5M605.5 110.5L605.5 95.5M605.5 95.5L605.5 80.5"/>
<path d="M283.5 365.5L382.5 350.5M382.5 350.5L461.5 335.5M461.5 335.5L500.5 320.5M500.5 320.5L530.5 305.5M530.5 305.5L550.5 290.5M550.5 290.5L560.5 275.5M560.5 275.5L575.5 260.5M575.5 260.5L585.5 245.5M585.5 245.5L585.5 230.5M585.5 230.5L590.5 215.5M590.5 215.5L590.5 200.5M590.5 200.5L595.5 185.5M595.5 185.5L595.5 170.5M595.5 170.5L600.5 155.5M600.5 155.5L600.5 140.5M600.5 140.5L600.5 125.5M600.5 125.5L600.5 110.5M600.5 110.5L600.5 95.5M600.5 95.5L600.5 80.5"/>
<path d="M193.5 365.5L352.5 350.5M352.5 350.5L431.5 335.5M431.5 335.5L476.5 320.5M476.5 320.5L500.5 305.5M500.5 305.5L520.5 290.5M520.5 290.5L535.5 275.5M535.5 275.5L550.5 260.5M550.5 260.5L560.5 245.5M560.5 245.5L570.5 230.5M570.5 230.5L575.5 215.5M575.5 215.5L580.5 200.5M580.5 200.5L585.5 185.5M585.5 185.5L590.5 170.5M590.5 170.5L590.5 155.5M590.5 155.5L595.5 140.5M595.5 140.5L595.5 125.5M595.5 125.5L600.5 110.5M600.5 110.5L600.5 95.5M600.5 95.5L600.5 80.5"/>
<path d="M218.5 365.5L337.5 350.5M337.5 350.5L401.5 335.5M401.5 335.5L441.5 320.5M441.5 320.5L471.5 305.5M471.5 305.5L486.5 290.5M486.5 290.5L500.5 275.5M500.5 275.5L515.5 260.5M515.5 260.5L530.5 245.5M530.5 245.5L550.5 230.5M550.5 230.5L560.5 215.5M560.5 215.5L570.5 200.5M570.5 200.5L580.5 185.5M580.5 185.5L585.5 170.5M585.5 170.5L590.5 155.5M590.5 155.5L590.5 140.5M590.5 140.5L590.5 125.5M590.5 125.5L590.5 110.5M590.5 110.5L590.5 95.5M590.5 95.5L595.5 80.5"/>
<path d="M258.5 365.5L342.5 350.5M342.5 350.5L416.5 335.5M416.5 335.5L461.5 320.5M461.5 320.5L486.5 305.5M486.5 305.5L505.5 290.5M505.5 290.5L525.5 275.5M525.5 275.5L545.5 260.5M545.5 260.5L555.5 245.5M555.5 245.5L570.5 230.5M570.5 230.5L570.5 215.5M570.5 215.5L575.5 200.5M575.5 200.5L585.5 185.5M585.5 185.5L585.5 170.5M585.5 170.5L590.5 155.5M590.5 155.5L590.5 140.5M590.5 140.5L595.5 125.5M595.5 125.5L595.5 110.5M595.5 110.5L595.5 95.5M595.5 95.5L600.5 80.5"/>
<path d="M287.5 365.5L372.5 350.5M372.5 350.5L461.5 335.5M461.5 335.5L505.5 320.5M505.5 320.5L535.5 305.5M535.5 305.5L555.5 290.5M555.5 290.5L570.5 275.5M570.5 275.5L580.5 260.5M580.5 260.5L590.5 245.5M590.5 245.5L595.5 230.5M595.5 230.5L595.5 215.5M595.5 215.5L600.5 200.5M600.5 200.5L600.5 185.5M600.5 185.5L600.5 170.5M600.5 170.5L600.5 155.5M600.5 155.5L600.5 140.5M600.5 140.5L600.5 125.5M600.5 125.5L600.5 110.5M600.5 110.5L600.5 95.5M600.5 95.5L600.5 80.5"/>
<path d="M134.5 365.5L332.5 350.5M332.5 350.5L436.5 335.5M436.5 335.5L476.5 320.5M476.5 320.5L505.5 305.5M505.5 305.5L520.5 290.5M520.5 290.5L535.5 275.5M535.5 275.5L545.5 260.5M545.5 260.5L555.5 245.5M555.5 245.5L565.5 230.5M565.5 230.5L575.5 215.5M575.5 215.5L580.5 200.5M580.5 200.5L585.5 185.5M585.5 185.5L590.5 170.5M590.5 170.5L590.5 155.5M590.5 155.5L590.5 140.5M590.5 140.5L595.5 125.5M595.5 125.5L600.5 110.5M600.5 110.5L600.5 95.5M600.5 95.5L600.5 80.5"/>
<path d="M188.5 365.5L268.5 350.5M268.5 350.5L382.5 335.5M382.5 335.5L431.5 320.5M431.5 320.5L456.5 305.5M456.5 305.5L476.5 290.5M476.5 290.5L496.5 275.5M496.5 275.5L510.5 260.5M510.5 260.5L530.5 245.5M530.5 245.5L545.5 230.5M545.5 230.5L555.5 215.5M555.5 215.5L565.5 200.5M565.5 200.5L575.5 185.5M575.5 185.5L580.5 170.5M580.5 170.5L580.5 155.5M580.5 155.5L580.5 140.5M580.5 140.5L585.5 125.5M585.5 125.5L590.5 110.5M590.5 110.5L590.5 95.5M590.5 95.5L595.5 80.5"/>
<path d="M292.5 365.5L396.5 350.5M396.5 350.5L446.5 335.5M446.5 335.5L481.5 320.5M481.5 320.5L510.5 305.5M510.5 305.5L530.5 290.5M530.5 290.5L545.5 275.5M545.5 275.5L560.5 260.5M560.5 260.5L575.5 245.5M575.5 245.5L585.5 230.5M585.5 230.5L590.5 215.5M590.5 215.5L590.5 200.5M590.5 200.5L590.5 185.5M590.5 185.5L595.5 170.5M595.5 170.5L600.5 155.5M600.5 155.5L600.5 140.5M600.5 140.5L600.5 125.5M600.5 125.5L600.5 110.5M600.5 110.5L600.5 95.5M600.5 95.5L600.5 80.5"/>
<path d="M144.5 365.5L268.5 350.5M268.5 350.5L382.5 335.5M382.5 335.5L431.5 320.5M431.5 320.5L466.5 305.5M466.5 305.5L486.5 290.5M486.5 290.5L505.5 275.5M505.5 275.5L520.5 260.5M520.5 260.5L535.5 245.5M535.5 245.5L545.5 230.5M545.5 230.5L550.5 215.5M550.5 215.5L560.5 200.5M560.5 200.5L575.5 185.5M575.5 185.5L580.5 170.5M580.5 170.5L585.5 155.5M585.5 155.5L585.5 140.5M585.5 140.5L590.5 125.5M590.5 125.5L590.5 110.5M590.5 110.5L590.5 95.5M590.5 95.5L590.5 80.5"/>
<path d="M174.5 365.5L392.5 350.5M392.5 350.5L441.5 335.5M441.5 335.5L481.5 320.5M481.5 320.5L510.5 305.5M510.5 305.5L535.5 290.5M535.5 290.5L550.5 275.5M550.5 275.5L565.5 260.5M565.5 260.5L575.5 245.5M575.5 245.5L585.5 230.5M585.5 230.5L585.5 215.5M585.5 215.5L590.5 200.5M590.5 200.5L590.5 185.5M590.5 185.5L595.5 170.5M595.5 170.5L595.5 155.5M595.5 155.5L595.5 140.5M595.5 140.5L600.5 125.5M600.5 125.5L600.5 110.5M600.5 110.5L600.5 95.5M600.5 95.5L600.5 80.5"/>
<path d="M134.5 365.5L287.5 350.5M287.5 350.5L406.5 335.5M406.5 335.5L456.5 320.5M456.5 320.5L486.5 305.5M486.5 305.5L500.5 290.5M500.5 290.5L510.5 275.5M510.5 275.5L525.5 260.5M525.5 260.5L540.5 245.5M540.5 245.5L555.5 230.5M555.5 230.5L560.5 215.5M560.5 215.5L570.5 200.5M570.5 200.5L580.5 185.5M580.5 185.5L590.5 170.5M590.5 170.5L590.5 155.5M590.5 155.5L590.5 140.5M590.5 140.5L590.5 125.5M590.5 125.5L590.5 110.5M590.5 110.5L590.5 95.5M590.5 95.5L595.5 80.5"/>
<path d="M144.5 365.5L377.5 350.5M377.5 350.5L471.5 335.5M471.5 335.5L515.5 320.5M515.5 320.5L545.5 305.5M545.5 305.5L565.5 290.5M565.5 290.5L575.5 275.5M575.5 275.5L580.5 260.5M580.5 260.5L590.5 245.5M590.5 245.5L595.5 230.5M595.5 230.5L600.5 215.5M600.5 215.5L605.5 200.5M605.5 200.5L605.5 185.5M605.5 185.5L605.5 170.5M605.5 170.5L605.5 155.5M605.5 155.5L605.5 140.5M605.5 140.5L605.5 125.5M605.5 125.5L605.5 110.5M605.5 110.5L605.5 95.5M605.5 95.5L605.5 80.5"/>
<path d="M208.5 365.5L332.5 350.5M332.5 350.5L421.5 335.5M421.5 335.5L466.5 320.5M466.5 320.5L496.5 305.5M496.5 305.5L515.5 290.5M515.5 290.5L530.5 275.5M530.5 275.5L545.5 260.5M545.5 260.5L560.5 245.5M560.5 245.5L570.5 230.5M570.5 230.5L575.5 215.5M575.5 215.5L580.5 200.5M580.5 200.5L585.5 185.5M585.5 185.5L590.5 170.5M590.5 170.5L590.5 155.5M590.5 155.5L590.5 140.5M590.5 140.5L595.5 125.5M595.5 125.5L595.5 110.5M595.5 110.5L595.5 95.5M595.5 95.5L600.5 80.5"/>
<path d="M134.5 365.5L287.5 350.5M287.5 350.5L396.5 335.5M396.5 335.5L436.5 320.5M436.5 320.5L466.5 305.5M466.5 305.5L486.5 290.5M486.5 290.5L505.5 275.5M505.5 275.5L520.5 260.5M520.5 260.5L540.5 245.5M540.5 245.5L550.5 230.5M550.5 230.5L560.5 215.5M560.5 215.5L570.5 200.5M570.5 200.5L580.5 185.5M580.5 185.5L585.5 170.5M585.5 170.5L585.5 155.5M585.5 155.5L585.5 140.5M585.5 140.5L585.5 125.5M585.5 125.5L590.5 110.5M590.5 110.5L590.5 95.5M590.5 95.5L595.5 80.5"/>
<path d="M233.5 365.5L297.5 350.5M297.5 350.5L362.5 335.5M362.5 335.5L421.5 320.5M421.5 320.5L461.5 305.5M461.5 305.5L486.5 290.5M486.5 290.5L505.5 275.5M505.5 275.5L515.5 260.5M515.5 260.5L530.5 245.5M530.5 245.5L540.5 230.5M540.5 230.5L545.5 215.5M545.5 215.5L560.5 200.5M560.5 200.5L570.5 185.5M570.5 185.5L580.5 170.5M580.5 170.5L585.5 155.5M585.5 155.5L585.5 140.5M585.5 140.5L585.5 125.5M585.5 125.5L590.5 110.5M590.5 110.5L590.5 95.5M590.5 95.5L590.5 80.5"/>
<path d="M169.5 365.5L233.5 350.5M233.5 350.5L377.5 335.5M377.5 335.5L421.5 320.5M421.5 320.5L451.5 305.5M451.5 305.5L466.5 290.5M466.5 290.5L491.5 275.5M491.5 275.5L505.5 260.5M505.5 260.5L525.5 245.5M525.5 245.5L540.5 230.5M540.5 230.5L550.5 215.5M550.5 215.5L560.5 200.5M560.5 200.5L570.5 185.5M570.5 185.5L580.5 170.5M580.5 170.5L580.5 155.5M580.5 155.5L580.5 140.5M580.5 140.5L585.5 125.5M585.5 125.5L590.5 110.5M590.5 110.5L590.5 95.5M590.5 95.5L595.5 80.5"/>
<path d="M134.5 365.5L297.5 350.5M297.5 350.5L406.5 335.5M406.5 335.5L456.5 320.5M456.5 320.5L471.5 305.5M471.5 305.5L476.5 290.5M476.5 290.5L481.5 275.5M481.5 275.5L496.5 260.5M496.5 260.5L505.5 245.5M505.5 245.5L525.5 230.5M525.5 230.5L540.5 215.5M540.5 215.5L555.5 200.5M555.5 200.5L565.5 185.5M565.5 185.5L580.5 170.5M580.5 170.5L590.5 155.5M590.5 155.5L590.5 140.5M590.5 140.5L595.5 125.5M595.5 125.5L595.5 110.5M595.5 110.5L595.5 95.5M595.5 95.5L595.5 80.5"/>
<path d="M193.5 365.5L243.5 350.5M243.5 350.5L377.5 335.5M377.5 335.5L426.5 320.5M426.5 320.5L461.5 305.5M461.5 305.5L481.5 290.5M481.5 290.5L491.5 275.5M491.5 275.5L510.5 260.5M510.5 260.5L525.5 245.5M525.5 245.5L540.5 230.5M540.5 230.5L545.5 215.5M545.5 215.5L560.5 200.5M560.5 200.5L570.5 185.5M570.5 185.5L580.5 170.5M580.5 170.5L580.5 155.5M580.5 155.5L580.5 140.5M580.5 140.5L585.5 125.5M585.5 125.5L585.5 110.5M585.5 110.5L590.5 95.5M590.5 95.5L595.5 80.5"/>
<path d="M179.5 365.5L278.5 350.5M278.5 350.5L396.5 335.5M396.5 335.5L446.5 320.5M446.5 320.5L471.5 305.5M471.5 305.5L481.5 290.5M481.5 290.5L491.5 275.5M491.5 275.5L505.5 260.5M505.5 260.5L525.5 245.5M525.5 245.5L535.5 230.5M535.5 230.5L545.5 215.5M545.5 215.5L560.5 200.5M560.5 200.5L575.5 185.5M575.5 185.5L585.5 170.5M585.5 170.5L590.5 155.5M590.5 155.5L590.5 140.5M590.5 140.5L590.5 125.5M590.5 125.5L590.5 110.5M590.5 110.5L590.5 95.5M590.5 95.5L595.5 80.5"/>
<path d="M179.5 365.5L273.5 350.5M273.5 350.5L392.5 335.5M392.5 335.5L441.5 320.5M441.5 320.5L476.5 305.5M476.5 305.5L481.5 290.5M481.5 290.5L486.5 275.5M486.5 275.5L496.5 260.5M496.5 260.5L515.5 245.5M515.5 245.5L535.5 230.5M535.5 230.5L550.5 215.5M550.5 215.5L565.5 200.5M565.5 200.5L580.5 185.5M580.5 185.5L585.5 170.5M585.5 170.5L585.5 155.5M585.5 155.5L590.5 140.5M590.5 140.5L595.5 125.5M595.5 125.5L595.5 110.5M595.5 110.5L595.5 95.5M595.5 95.5L595.5 80.5"/>
<path d="M134.5 365.5L302.5 350.5M302.5 350.5L406.5 335.5M406.5 335.5L416.5 320.5M416.5 320.5L421.5 305.5M421.5 305.5L426.5 290.5M426.5 290.5L446.5 275.5M446.5 275.5L471.5 260.5M471.5 260.5L500.5 245.5M500.5 245.5L530.5 230.5M530.5 230.5L550.5 215.5M550.5 215.5L575.5 200.5M575.5 200.5L585.5 185.5M585.5 185.5L590.5 170.5M590.5 170.5L590.5 155.5M590.5 155.5L590.5 140.5M590.5 140.5L590.5 125.5M590.5 125.5L595.5 110.5M595.5 110.5L595.5 95.5M595.5 95.5L595.5 80.5"/>
<path d="M154.5 365.5L238.5 350.5M238.5 350.5L377.5 335.5M377.5 335.5L426.5 320.5M426.5 320.5L461.5 305.5M461.5 305.5L471.5 290.5M471.5 290.5L476.5 275.5M476.5 275.5L491.5 260.5M491.5 260.5L505.5 245.5M505.5 245.5L520.5 230.5M520.5 230.5L540.5 215.5M540.5 215.5L550.5 200.5M550.5 200.5L570.5 185.5M570.5 185.5L580.5 170.5M580.5 170.5L580.5 155.5M580.5 155.5L580.5 140.5M580.5 140.5L585.5 125.5M585.5 125.5L590.5 110.5M590.5 110.5L590.5 95.5M590.5 95.5L595.5 80.5"/>
<path d="M134.5 365.5L292.5 350.5M292.5 350.5L406.5 335.5M406.5 335.5L446.5 320.5M446.5 320.5L466.5 305.5M466.5 305.5L471.5 290.5M471.5 290.5L486.5 275.5M486.5 275.5L505.5 260.5M505.5 260.5L530.5 245.5M530.5 245.5L550.5 230.5M550.5 230.5L565.5 215.5M565.5 215.5L570.5 200.5M570.5 200.5L580.5 185.5M580.5 185.5L585.5 170.5M585.5 170.5L590.5 155.5M590.5 155.5L590.5 140.5M590.5 140.5L595.5 125.5M595.5 125.5L595.5 110.5M595.5 110.5L595.5 95.5M595.5 95.5L600.5 80.5"/>
<path d="M134.5 365.5L263.5 350.5M263.5 350.5L387.5 335.5M387.5 335.5L436.5 320.5M436.5 320.5L471.5 305.5M471.5 305.5L481.5 290.5M481.5 290.5L486.5 275.5M486.5 275.5L491.5 260.5M491.5 260.5L500.5 245.5M500.5 245.5L525.5 230.5M525.5 230.5L535.5 215.5M535.5 215.5L550.5 200.5M550.5 200.5L570.5 185.5M570.5 185.5L580.5 170.5M580.5 170.5L585.5 155.5M585.5 155.5L585.5 140.5M585.5 140.5L585.5 125.5M585.5 125.5L590.5 110.5M590.5 110.5L590.5 95.5M590.5 95.5L595.5 80.5"/>
<path d="M169.5 365.5L243.5 350.5M243.5 350.5L382.5 335.5M382.5 335.5L431.5 320.5M431.5 320.5L451.5 305.5M451.5 305.5L461.5 290.5M461.5 290.5L476.5 275.5M476.5 275.5L496.5 260.5M496.5 260.5L510.5 245.5M510.5 245.5L535.5 230.5M535.5 230.5L545.5 215.5M545.5 215.5L555.5 200.5M555.5 200.5L575.5 185.5M575.5 185.5L580.5 170.5M580.5 170.5L580.5 155.5M580.5 155.5L580.5 140.5M580.5 140.5L585.5 125.5M585.5 125.5L590.5 110.5M590.5 110.5L590.5 95.5M590.5 95.5L595.5 80.5"/>
<path d="M283.5 365.5L436.5 350.5M436.5 350.5L476.5 335.5M476.5 335.5L515.5 320.5M515.5 320.5L545.5 305.5M545.5 305.5L565.5 290.5M565.5 290.5L580.5 275.5M580.5 275.5L590.5 260.5M590.5 260.5L595.5 245.5M595.5 245.5L600.5 230.5M600.5 230.5L605.5 215.5M605.5 215.5L605.5 200.5M605.5 200.5L605.5 185.5M605.5 185.5L605.5 170.5M605.5 170.5L605.5 155.5M605.5 155.5L605.5 140.5M605.5 140.5L605.5 125.5M605.5 125.5L605.5 110.5M605.5 110.5L605.5 95.5M605.5 95.5L605.5 80.5"/>
<path d="M292.5 365.5L436.5 350.5M436.5 350.5L481.5 335.5M481.5 335.5L520.5 320.5M520.5 320.5L545.5 305.5M545.5 305.5L565.5 290.5M565.5 290.5L585.5 275.5M585.5 275.5L590.5 260.5M590.5 260.5L600.5 245.5M600.5 245.5L600.5 230.5M600.5 230.5L605.5 215.5M605.5 215.5L605.5 200.5M605.5 200.5L605.5 185.5M605.5 185.5L605.5 170.5M605.5 170.5L605.5 155.5M605.5 155.5L605.5 140.5M605.5 140.5L605.5 125.5M605.5 125.5L605.5 110.5M605.5 110.5L605.5 95.5M605.5 95.5L605.5 80.5"/>
<path d="M302.5 365.5L441.5 350.5M441.5 350.5L491.5 335.5M491.5 335.5L525.5 320.5M525.5 320.5L550.5 305.5M550.5 305.5L570.5 290.5M570.5 290.5L585.5 275.5M585.5 275.5L590.5 260.5M590.5 260.5L595.5 245.5M595.5 245.5L600.5 230.5M600.5 230.5L605.5 215.5M605.5 215.5L605.5 200.5M605.5 200.5L605.5 185.5M605.5 185.5L605.5 170.5M605.5 170.5L605.5 155.5M605.5 155.5L605.5 140.5M605.5 140.5L605.5 125.5M605.5 125.5L605.5 110.5M605.5 110.5L605.5 95.5M605.5 95.5L605.5 80.5"/>
<path d="M312.5 365.5L446.5 350.5M446.5 350.5L500.5 335.5M500.5 335.5L535.5 320.5M535.5 320.5L555.5 305.5M555.5 305.5L570.5 290.5M570.5 290.5L585.5 275.5M585.5 275.5L595.5 260.5M595.5 260.5L600.5 245.5M600.5 245.5L600.5 230.5M600.5 230.5L605.5 215.5M605.5 215.5L605.5 200.5M605.5 200.5L605.5 185.5M605.5 185.5L605.5 170.5M605.5 170.5L605.5 155.5M605.5 155.5L605.5 140.5M605.5 140.5L605.5 125.5M605.5 125.5L605.5 110.5M605.5 110.5L605.5 95.5M605.5 95.5L605.5 80.5"/>
<path d="M322.5 365.5L451.5 350.5M451.5 350.5L505.5 335.5M505.5 335.5L545.5 320.5M545.5 320.5L555.5 305.5M555.5 305.5L570.5 290.5M570.5 290.5L590.5 275.5M590.5 275.5L595.5 260.5M595.5 260.5L600.5 245.5M600.5 245.5L605.5 230.5M605.5 230.5L605.5 215.5M605.5 215.5L605.5 200.5M605.5 200.5L605.5 185.5M605.5 185.5L605.5 170.5M605.5 170.5L605.5 155.5M605.5 155.5L605.5 140.5M605.5 140.5L605.5 125.5M605.5 125.5L605.5 110.5M605.5 110.5L605.5 95.5M605.5 95.5L605.5 80.5"/>
</g>
<g fill="none" stroke="#000" stroke-width="1" shape-rendering="crispEdges">
<rect x="65.5" y="65.5" width="550" height="310"/>
<path d="M128.5 375.5v-5M128.5 65.5v5M181.5 375.5v-10M181.5 65.5v10M234.5 375.5v-5M234.5 65.5v5M287.5 375.5v-10M287.5 65.5v10M340.5 375.5v-5M340.5 65.5v5M393.5 375.5v-10M393.5 65.5v10M446.5 375.5v-5M446.5 65.5v5M499.5 375.5v-10M499.5 65.5v10M552.5 375.5v-5M552.5 65.5v5M605.5 375.5v-10M605.5 65.5v10M65.5 75.5h10M615.5 75.5h-10M65.5 104.5h5M615.5 104.5h-5M65.5 133.5h5M615.5 133.5h-5M65.5 162.5h5M615.5 162.5h-5M65.5 191.5h5M615.5 191.5h-5M65.5 220.5h10M615.5 220.5h-10M65.5 249.5h5M615.5 249.5h-5M65.5 278.5h5M615.5 278.5h-5M65.5 307.5h5M615.5 307.5h-5M65.5 336.5h5M615.5 336.5h-5"/>
</g>
<g text-anchor="middle" fill="#000" font-family="Liberation Mono, monospace" style="opacity:0.999">
<text transform="translate(314.50,30) scale(1.0,0.87)" font-family="Liberation Mono" font-size="16" font-weight="normal" stroke="#000" stroke-width="0.6">R</text><text transform="translate(324.10,30) scale(1.0,0.93)" font-family="Liberation Mono" font-size="16" font-weight="normal" stroke="#000" stroke-width="0.6">1</text><text transform="translate(333.70,30) scale(1.0,1.0)" font-family="Liberation Sans" font-size="14" font-weight="normal" stroke="#000" stroke-width="0.8">0</text><text transform="translate(343.30,30) scale(1.0,0.93)" font-family="Liberation Mono" font-size="16" font-weight="normal" stroke="#000" stroke-width="0.6">9</text><text transform="translate(352.90,30) scale(1.0,0.93)" font-family="Liberation Mono" font-size="16" font-weight="normal" stroke="#000" stroke-width="0.6">1</text><text transform="translate(362.50,30) scale(1.45,0.87)" font-family="Liberation Mono" font-size="16" font-weight="normal" stroke="#000" stroke-width="0.3">-</text><text transform="translate(372.10,30) scale(1.0,0.87)" font-family="Liberation Mono" font-size="16" font-weight="normal" stroke="#000" stroke-width="0.6">D</text><text transform="translate(381.70,30) scale(1.0,0.93)" font-family="Liberation Mono" font-size="16" font-weight="normal" stroke="#000" stroke-width="0.6">2</text>
<text transform="translate(224.20,420) scale(1.0,0.87)" font-family="Liberation Mono" font-size="16" font-weight="normal" stroke="#000" stroke-width="0.6">P</text><text transform="translate(233.80,420) scale(1.0,0.87)" font-family="Liberation Mono" font-size="16" font-weight="normal" stroke="#000" stroke-width="0.6">e</text><text transform="translate(243.40,420) scale(1.0,0.87)" font-family="Liberation Mono" font-size="16" font-weight="normal" stroke="#000" stroke-width="0.6">r</text><text transform="translate(253.00,420) scale(1.0,0.87)" font-family="Liberation Mono" font-size="16" font-weight="normal" stroke="#000" stroke-width="0.6">c</text><text transform="translate(262.60,420) scale(1.0,0.87)" font-family="Liberation Mono" font-size="16" font-weight="normal" stroke="#000" stroke-width="0.6">e</text><text transform="translate(272.20,420) scale(1.0,0.87)" font-family="Liberation Mono" font-size="16" font-weight="normal" stroke="#000" stroke-width="0.6">n</text><text transform="translate(281.80,420) scale(1.0,0.87)" font-family="Liberation Mono" font-size="16" font-weight="normal" stroke="#000" stroke-width="0.6">t</text><text transform="translate(301.00,420) scale(1.0,0.87)" font-family="Liberation Mono" font-size="16" font-weight="normal" stroke="#000" stroke-width="0.6">o</text><text transform="translate(310.60,420) scale(1.0,0.87)" font-family="Liberation Mono" font-size="16" font-weight="normal" stroke="#000" stroke-width="0.6">f</text><text transform="translate(329.80,420) scale(1.0,0.87)" font-family="Liberation Mono" font-size="16" font-weight="normal" stroke="#000" stroke-width="0.6">R</text><text transform="translate(339.40,420) scale(1.0,0.87)" font-family="Liberation Mono" font-size="16" font-weight="normal" stroke="#000" stroke-width="0.6">e</text><text transform="translate(349.00,420) scale(1.0,0.87)" font-family="Liberation Mono" font-size="16" font-weight="normal" stroke="#000" stroke-width="0.6">s</text><text transform="translate(358.60,420) scale(1.0,0.87)" font-family="Liberation Mono" font-size="16" font-weight="normal" stroke="#000" stroke-width="0.6">i</text><text transform="translate(368.20,420) scale(1.0,0.87)" font-family="Liberation Mono" font-size="16" font-weight="normal" stroke="#000" stroke-width="0.6">d</text><text transform="translate(377.80,420) scale(1.0,0.87)" font-family="Liberation Mono" font-size="16" font-weight="normal" stroke="#000" stroke-width="0.6">u</text><text transform="translate(387.40,420) scale(1.0,0.87)" font-family="Liberation Mono" font-size="16" font-weight="normal" stroke="#000" stroke-width="0.6">e</text><text transform="translate(397.00,420) scale(1.0,0.87)" font-family="Liberation Mono" font-size="16" font-weight="normal" stroke="#000" stroke-width="0.6">s</text><text transform="translate(416.20,420) scale(1.0,0.87)" font-family="Liberation Mono" font-size="16" font-weight="normal" stroke="#000" stroke-width="0.6">(</text><text transform="translate(425.80,420) scale(1.0,0.87)" font-family="Liberation Mono" font-size="16" font-weight="normal" stroke="#000" stroke-width="0.6">C</text><text transform="translate(435.40,420) scale(1.0,0.87)" font-family="Liberation Mono" font-size="16" font-weight="normal" stroke="#000" stroke-width="0.6">A</text><text transform="translate(445.00,420) scale(1.0,0.87)" font-family="Liberation Mono" font-size="16" font-weight="normal" stroke="#000" stroke-width="0.6">)</text>
<text transform="translate(64.50,395) scale(1.0,1.0)" font-family="Liberation Sans" font-size="14" font-weight="normal" stroke="#000" stroke-width="0.8">0</text>
<text transform="translate(175.20,395) scale(1.0,0.93)" font-family="Liberation Mono" font-size="16" font-weight="normal" stroke="#000" stroke-width="0.6">2</text><text transform="translate(184.80,395) scale(1.0,1.0)" font-family="Liberation Sans" font-size="14" font-weight="normal" stroke="#000" stroke-width="0.8">0</text>
<text transform="translate(281.20,395) scale(1.0,0.93)" font-family="Liberation Mono" font-size="16" font-weight="normal" stroke="#000" stroke-width="0.6">4</text><text transform="translate(290.80,395) scale(1.0,1.0)" font-family="Liberation Sans" font-size="14" font-weight="normal" stroke="#000" stroke-width="0.8">0</text>
<text transform="translate(387.20,395) scale(1.0,0.93)" font-family="Liberation Mono" font-size="16" font-weight="normal" stroke="#000" stroke-width="0.6">6</text><text transform="translate(396.80,395) scale(1.0,1.0)" font-family="Liberation Sans" font-size="14" font-weight="normal" stroke="#000" stroke-width="0.8">0</text>
<text transform="translate(493.20,395) scale(1.0,0.93)" font-family="Liberation Mono" font-size="16" font-weight="normal" stroke="#000" stroke-width="0.6">8</text><text transform="translate(502.80,395) scale(1.0,1.0)" font-family="Liberation Sans" font-size="14" font-weight="normal" stroke="#000" stroke-width="0.8">0</text>
<text transform="translate(599.40,395) scale(1.0,0.93)" font-family="Liberation Mono" font-size="16" font-weight="normal" stroke="#000" stroke-width="0.6">1</text><text transform="translate(609.00,395) scale(1.0,1.0)" font-family="Liberation Sans" font-size="14" font-weight="normal" stroke="#000" stroke-width="0.8">0</text><text transform="translate(618.60,395) scale(1.0,1.0)" font-family="Liberation Sans" font-size="14" font-weight="normal" stroke="#000" stroke-width="0.8">0</text>
<text transform="translate(55,70.26) rotate(-90) scale(1.0,0.93)" font-family="Liberation Mono" font-size="16" font-weight="normal" stroke="#000" stroke-width="0.6">1</text><text transform="translate(55,60.58) rotate(-90) scale(1.0,1.0)" font-family="Liberation Sans" font-size="14" font-weight="normal" stroke="#000" stroke-width="0.8">0</text>
<text transform="translate(55,219.96) rotate(-90) scale(1.0,0.93)" font-family="Liberation Mono" font-size="16" font-weight="normal" stroke="#000" stroke-width="0.6">5</text>
<text transform="translate(55,375.66) rotate(-90) scale(1.0,1.0)" font-family="Liberation Sans" font-size="14" font-weight="normal" stroke="#000" stroke-width="0.8">0</text>
<text transform="translate(30.7,315.46) rotate(-90) scale(1.0,0.87)" font-family="Liberation Mono" font-size="16" font-weight="normal" stroke="#000" stroke-width="0.6">D</text><text transform="translate(30.7,305.78) rotate(-90) scale(1.0,0.87)" font-family="Liberation Mono" font-size="16" font-weight="normal" stroke="#000" stroke-width="0.6">i</text><text transform="translate(30.7,296.10) rotate(-90) scale(1.0,0.87)" font-family="Liberation Mono" font-size="16" font-weight="normal" stroke="#000" stroke-width="0.6">s</text><text transform="translate(30.7,286.42) rotate(-90) scale(1.0,0.87)" font-family="Liberation Mono" font-size="16" font-weight="normal" stroke="#000" stroke-width="0.6">t</text><text transform="translate(30.7,276.74) rotate(-90) scale(1.0,0.87)" font-family="Liberation Mono" font-size="16" font-weight="normal" stroke="#000" stroke-width="0.6">a</text><text transform="translate(30.7,267.06) rotate(-90) scale(1.0,0.87)" font-family="Liberation Mono" font-size="16" font-weight="normal" stroke="#000" stroke-width="0.6">n</text><text transform="translate(30.7,257.38) rotate(-90) scale(1.0,0.87)" font-family="Liberation Mono" font-size="16" font-weight="normal" stroke="#000" stroke-width="0.6">c</text><text transform="translate(30.7,247.70) rotate(-90) scale(1.0,0.87)" font-family="Liberation Mono" font-size="16" font-weight="normal" stroke="#000" stroke-width="0.6">e</text><text transform="translate(30.7,228.34) rotate(-90) scale(1.0,0.87)" font-family="Liberation Mono" font-size="16" font-weight="normal" stroke="#000" stroke-width="0.6">C</text><text transform="translate(30.7,218.66) rotate(-90) scale(1.0,0.87)" font-family="Liberation Mono" font-size="16" font-weight="normal" stroke="#000" stroke-width="0.6">u</text><text transform="translate(30.7,208.98) rotate(-90) scale(1.0,0.87)" font-family="Liberation Mono" font-size="16" font-weight="normal" stroke="#000" stroke-width="0.6">t</text><text transform="translate(30.7,199.30) rotate(-90) scale(1.0,0.87)" font-family="Liberation Mono" font-size="16" font-weight="normal" stroke="#000" stroke-width="0.6">o</text><text transform="translate(30.7,189.62) rotate(-90) scale(1.0,0.87)" font-family="Liberation Mono" font-size="16" font-weight="normal" stroke="#000" stroke-width="0.6">f</text><text transform="translate(30.7,179.94) rotate(-90) scale(1.0,0.87)" font-family="Liberation Mono" font-size="16" font-weight="normal" stroke="#000" stroke-width="0.6">f</text><text transform="translate(30.7,170.26) rotate(-90) scale(1.0,0.87)" font-family="Liberation Mono" font-size="16" font-weight="normal" stroke="#000" stroke-width="0.6">,</text><text transform="translate(30.7,150.90) rotate(-90) scale(1.0,0.87)" font-family="Liberation Mono" font-size="16" font-weight="normal" stroke="#000" stroke-width="0.6">A</text>
</g></svg>
</body></html>
